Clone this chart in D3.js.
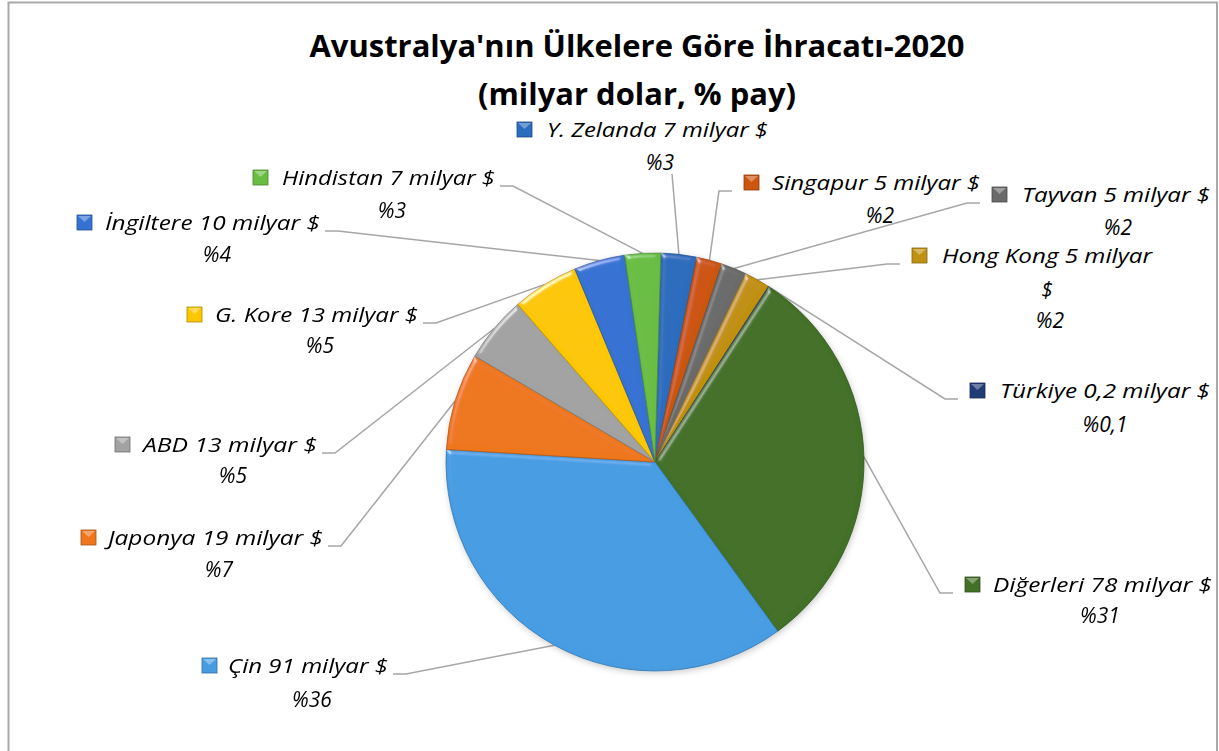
<!doctype html>
<html>
  <head>
    <meta charset="utf-8">
    <script src="https://cdnjs.cloudflare.com/ajax/libs/d3/7.8.5/d3.min.js"></script>
  <style>
    body { margin: 0; background: #fff; }
    text { font-family: "Open Sans", Lato, sans-serif; fill: #000; }
    .title { font-weight: bold; font-size: 31px; }
    .lbl { font-style: italic; font-size: 19.5px; }
    .pct { font-style: italic; font-size: 21px; }
    .leader { fill: none; stroke: #a6a6a6; stroke-width: 1.5; }
  </style>
  </head>
  <body>
    <svg id="chart" width="1219" height="751"></svg>
    <script>
      // data
      var countries = ["Y. Zelanda", "Singapur", "Tayvan", "Hong Kong", "Türkiye", "Diğerleri",
                       "Çin", "Japonya", "ABD", "G. Kore", "İngiltere", "Hindistan"];
      var values = [7, 5, 5, 5, 0.2, 78, 91, 19, 13, 13, 10, 7];
      var valueText = ["7", "5", "5", "5", "0,2", "78", "91", "19", "13", "13", "10", "7"];
      var shareText = ["%3", "%2", "%2", "%2", "%0,1", "%31", "%36", "%7", "%5", "%5", "%4", "%3"];
      var colors = ["#2a6cbd", "#cc5510", "#6a6a6a", "#c09010", "#213b76", "#437026",
                    "#479ce2", "#ee771e", "#a2a2a2", "#fcc600", "#3672d3", "#69bd42"];

      var titleLines = ["Avustralya'nın Ülkelere Göre İhracatı-2020", "(milyar dolar, % pay)"];

      // label placement (sx = square left, y = baseline, tx0/tx1 = text span, px = percent center)
      var layout = [
        {sx: 517, y: 137, tx0: 547, tx1: 768, px: 660, py: 170, side: "below", ax: 672, ay: 174},
        {sx: 744, y: 190, tx0: 772, tx1: 980, px: 880, py: 223, side: "right"},
        {sx: 992, y: 202, tx0: 1022, tx1: 1210, px: 1118, py: 235, side: "right"},
        {sx: 912, y: 263, tx0: 942, tx1: 1152, px: 1050, py: 328, side: "right", wrap: 297},
        {sx: 970, y: 398, tx0: 1000, tx1: 1210, px: 1105, py: 432, side: "right"},
        {sx: 965, y: 592, tx0: 993, tx1: 1212, px: 1100, py: 623, side: "right"},
        {sx: 202, y: 673, tx0: 228, tx1: 388, px: 312, py: 707, side: "left"},
        {sx: 81, y: 545, tx0: 108, tx1: 323, px: 219, py: 577, side: "left"},
        {sx: 115, y: 452, tx0: 143, tx1: 317, px: 233, py: 483, side: "left"},
        {sx: 187, y: 322, tx0: 215, tx1: 418, px: 320, py: 353, side: "left"},
        {sx: 77, y: 230, tx0: 105, tx1: 320, px: 217, py: 262, side: "left"},
        {sx: 253, y: 185, tx0: 282, tx1: 495, px: 392, py: 218, side: "left"}
      ];

      var cx = 655, cy = 462, r = 209;
      var startOffset = 1.6 * Math.PI / 180;

      var svg = d3.select("#chart");

      var defs = svg.append("defs");
      var bevel = defs.append("filter").attr("id", "bevel")
        .attr("x", "-5%").attr("y", "-5%").attr("width", "110%").attr("height", "110%");
      bevel.append("feGaussianBlur").attr("in", "SourceAlpha").attr("stdDeviation", 2.5).attr("result", "blur");
      bevel.append("feSpecularLighting").attr("in", "blur").attr("surfaceScale", 3)
        .attr("specularConstant", 0.6).attr("specularExponent", 40)
        .attr("lighting-color", "#ffffff").attr("result", "spec")
        .append("feDistantLight").attr("azimuth", 235).attr("elevation", 35);
      bevel.append("feComposite").attr("in", "spec").attr("in2", "SourceAlpha")
        .attr("operator", "in").attr("result", "specOut");
      bevel.append("feComposite").attr("in", "SourceGraphic").attr("in2", "specOut")
        .attr("operator", "arithmetic").attr("k1", 0).attr("k2", 1).attr("k3", 0.8).attr("k4", 0);

      var shadow = defs.append("filter").attr("id", "shadow")
        .attr("x", "-10%").attr("y", "-10%").attr("width", "120%").attr("height", "120%");
      shadow.append("feDropShadow").attr("dx", 1).attr("dy", 2).attr("stdDeviation", 3)
        .attr("flood-color", "#000").attr("flood-opacity", 0.2);

      // outer border
      svg.append("rect")
        .attr("x", 8.5).attr("y", 2.5).attr("width", 1208.5).attr("height", 780)
        .attr("fill", "#fff").attr("stroke", "#a9a9a9").attr("stroke-width", 2);

      // title
      svg.selectAll("text.title").data(titleLines).enter().append("text")
        .attr("class", "title")
        .attr("x", 637)
        .attr("y", (d, i) => i === 0 ? 57 : 105)
        .attr("text-anchor", "middle")
        .attr("textLength", (d, i) => i === 0 ? 655 : 318)
        .attr("lengthAdjust", "spacingAndGlyphs")
        .text(d => d);

      var pie = d3.pie().sort(null).value(d => d)
        .startAngle(startOffset).endAngle(startOffset + 2 * Math.PI);
      var arcs = pie(values);
      var arc = d3.arc().innerRadius(0).outerRadius(r);
      var edge = d3.arc().innerRadius(r).outerRadius(r);

      // leader lines
      svg.append("g").selectAll("path").data(arcs).enter().append("path")
        .attr("class", "leader")
        .attr("d", (d, i) => {
          var L = layout[i];
          var p = edge.centroid(d);
          var pts;
          if (L.side === "below") pts = [[L.ax, L.ay], [cx + p[0], cy + p[1]]];
          else if (L.side === "left") pts = [[L.tx1 + 5, L.y + 1], [L.tx1 + 18, L.y + 1], [cx + p[0], cy + p[1]]];
          else pts = [[L.sx - 12, L.y + 1], [L.sx - 25, L.y + 1], [cx + p[0], cy + p[1]]];
          return d3.line()(pts);
        });

      // pie slices
      var g = svg.append("g").attr("transform", `translate(${cx},${cy})`).attr("filter", "url(#shadow)");
      g.selectAll("path").data(arcs).enter().append("path")
        .attr("d", arc)
        .attr("fill", (d, i) => colors[i])
        .attr("stroke", (d, i) => d3.color(colors[i]).darker(0.8))
        .attr("stroke-width", 0.8)
        .attr("filter", "url(#bevel)");

      // labels
      var lab = svg.append("g").selectAll("g").data(countries).enter().append("g");
      lab.append("rect")
        .attr("x", (d, i) => layout[i].sx)
        .attr("y", (d, i) => layout[i].y - 15)
        .attr("width", 15).attr("height", 15)
        .attr("fill", (d, i) => colors[i])
        .attr("stroke", (d, i) => d3.color(colors[i]).darker(1))
        .attr("stroke-width", 0.8);
      lab.append("path")
        .attr("d", (d, i) => {
          var x = layout[i].sx, y = layout[i].y - 15;
          return `M${x + 1},${y + 1}L${x + 14},${y + 1}L${x + 7.5},${y + 7}Z`;
        })
        .attr("fill", "#fff").attr("opacity", 0.35);
      lab.append("text")
        .attr("class", "lbl")
        .attr("x", (d, i) => layout[i].tx0)
        .attr("y", (d, i) => layout[i].y)
        .attr("textLength", (d, i) => layout[i].tx1 - layout[i].tx0)
        .attr("lengthAdjust", "spacingAndGlyphs")
        .text((d, i) => `${d} ${valueText[i]} milyar` + (layout[i].wrap ? "" : " $"));
      lab.each(function(d, i) {
        var L = layout[i];
        if (L.wrap) {
          d3.select(this).append("text")
            .attr("class", "pct")
            .attr("x", L.px - 3)
            .attr("y", L.wrap)
            .attr("text-anchor", "middle")
            .text("$");
        }
      });
      lab.append("text")
        .attr("class", "pct")
        .attr("x", (d, i) => layout[i].px)
        .attr("y", (d, i) => layout[i].py)
        .attr("text-anchor", "middle")
        .text((d, i) => shareText[i]);
    </script>
  </body>
</html>
